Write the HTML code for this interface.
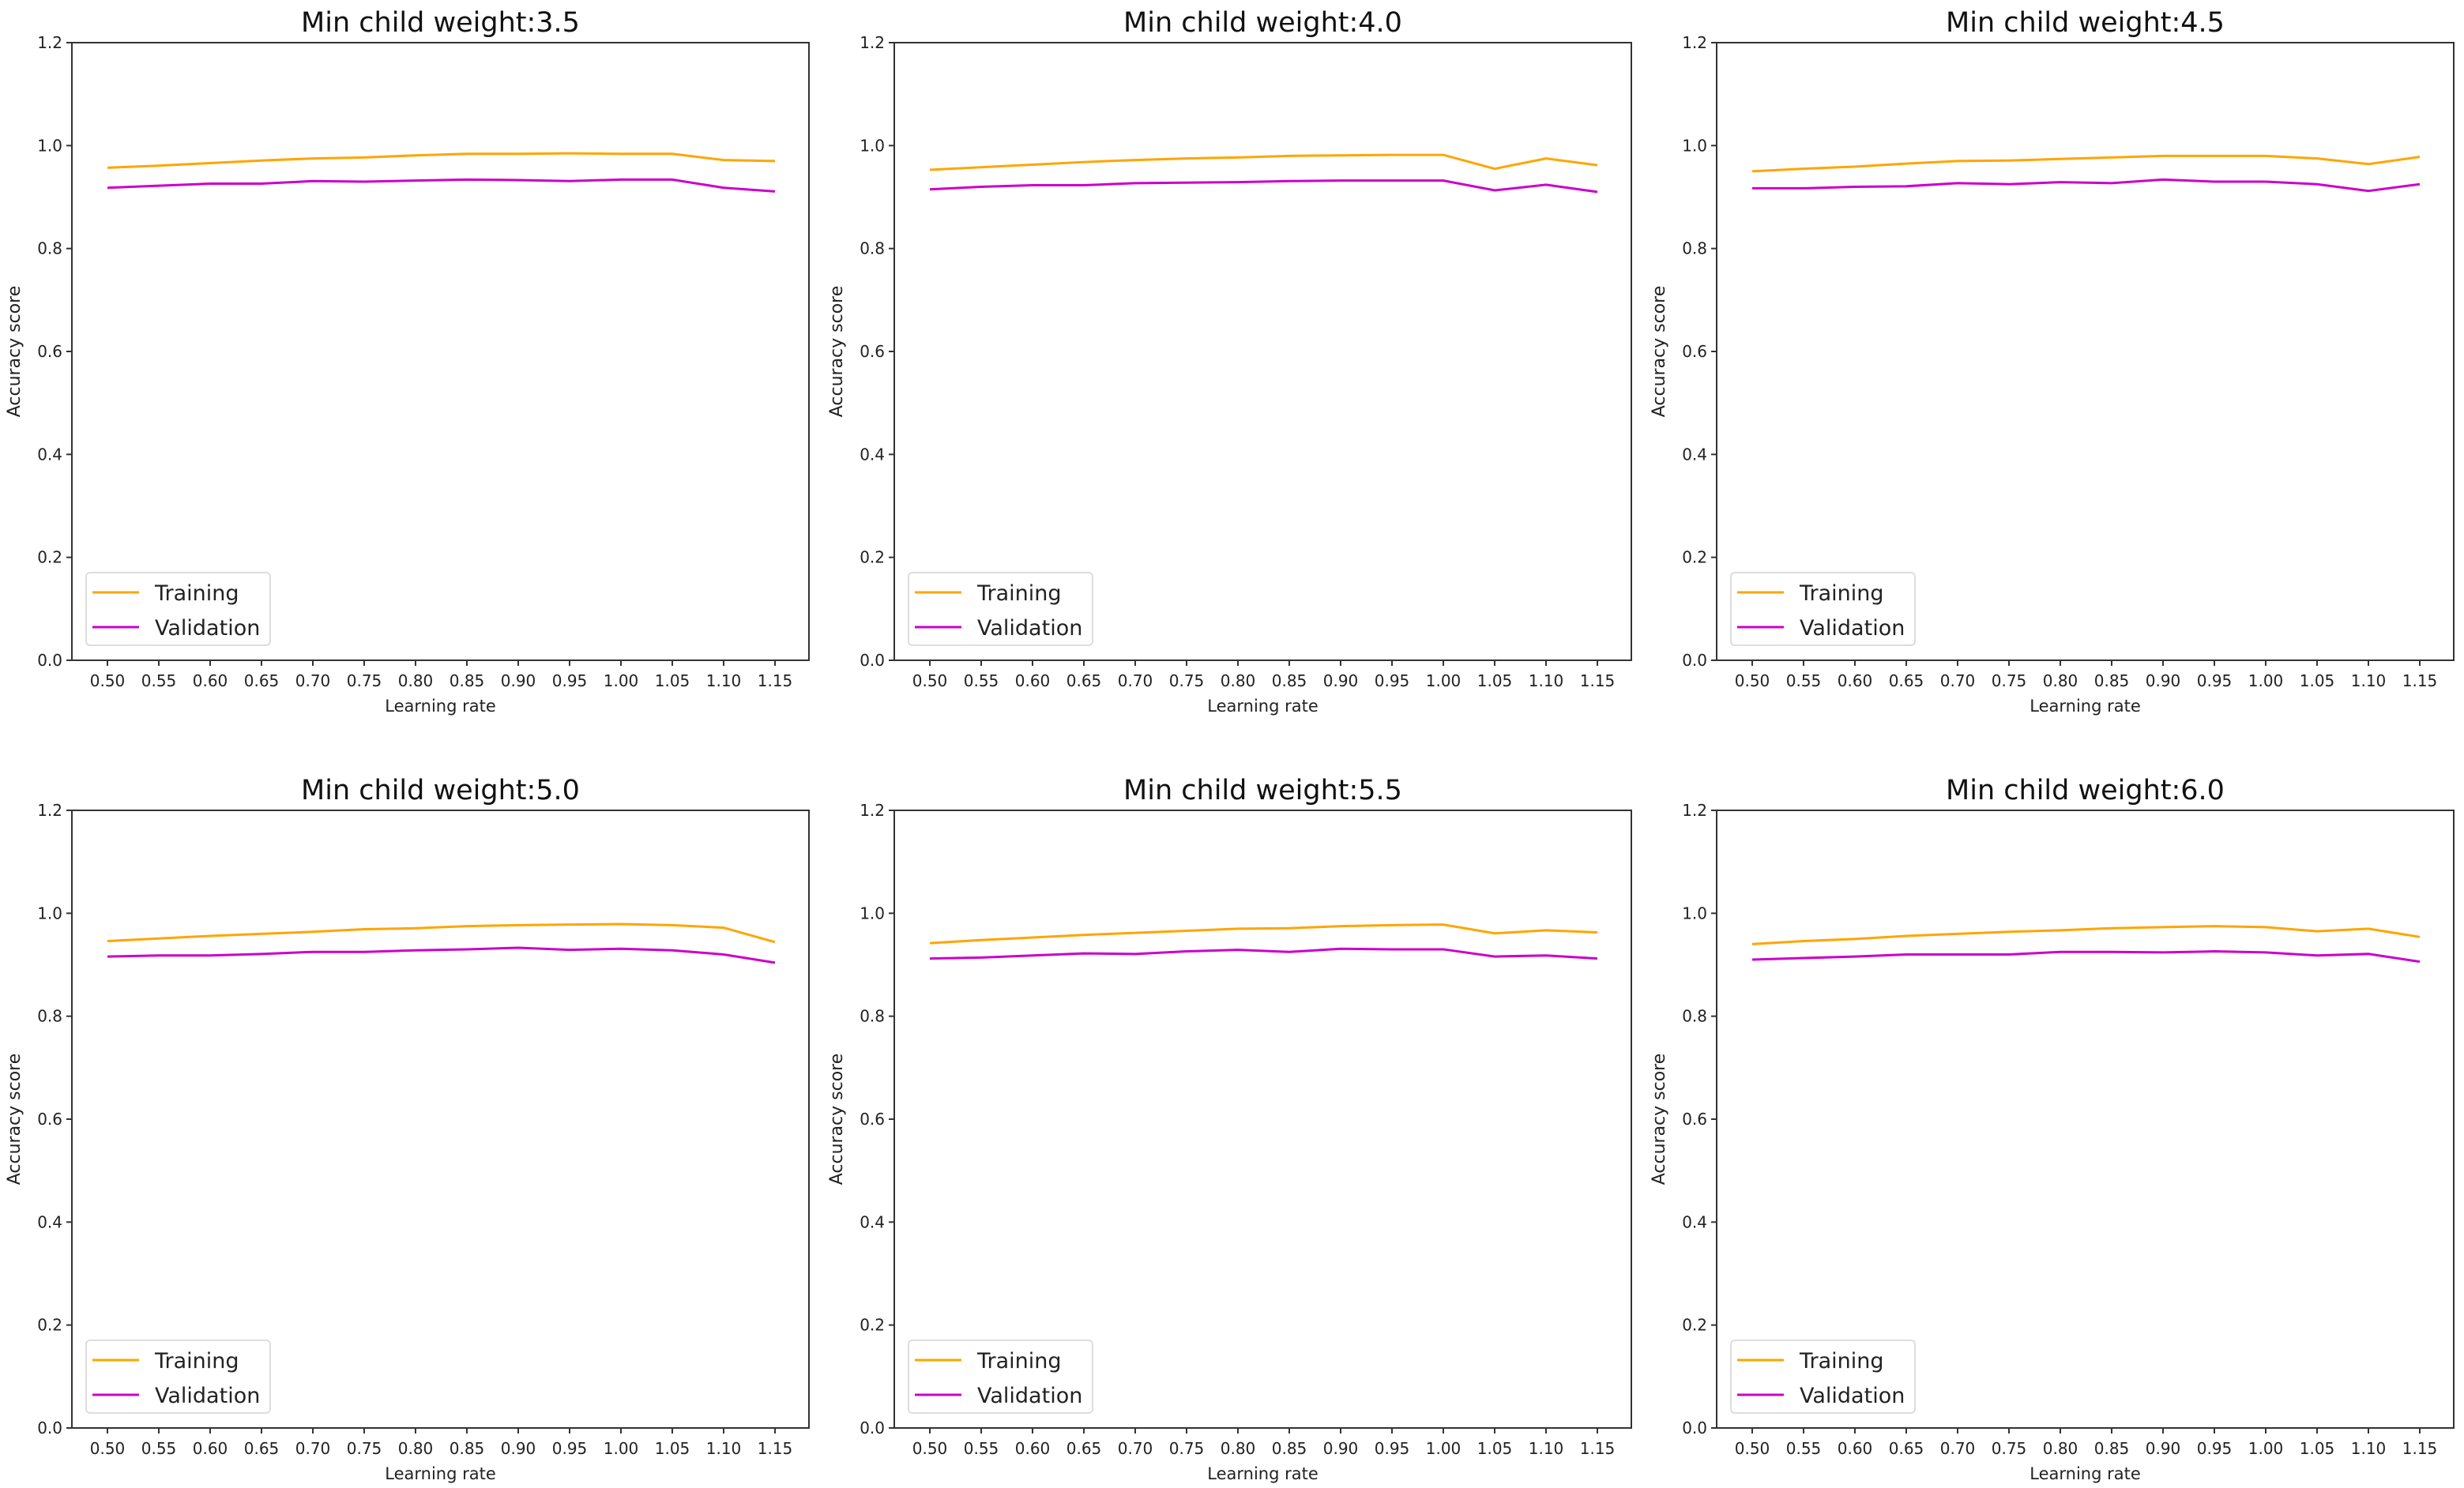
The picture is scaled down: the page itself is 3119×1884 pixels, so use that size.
<!DOCTYPE html>
<html><head><meta charset="utf-8"><style>
html,body{margin:0;padding:0;background:#fff;overflow:hidden;}
svg{display:block;font-family:"DejaVu Sans","Liberation Sans",sans-serif;}
</style></head><body>
<svg id="fig" width="3119" height="1884" viewBox="0 0 3119 1884" xmlns="http://www.w3.org/2000/svg"></svg>
<script>
const xLabels = ["0.50","0.55","0.60","0.65","0.70","0.75","0.80","0.85","0.90","0.95","1.00","1.05","1.10","1.15"];
const yTicks = [0.0,0.2,0.4,0.6,0.8,1.0,1.2];
const titles = ["Min child weight:3.5","Min child weight:4.0","Min child weight:4.5","Min child weight:5.0","Min child weight:5.5","Min child weight:6.0"];
const train35 = [0.957,0.961,0.966,0.971,0.975,0.977,0.981,0.984,0.984,0.985,0.984,0.984,0.972,0.970];
const val35 = [0.918,0.922,0.926,0.926,0.931,0.930,0.932,0.934,0.933,0.931,0.934,0.934,0.918,0.911];
const train40 = [0.953,0.958,0.963,0.968,0.972,0.975,0.977,0.980,0.981,0.982,0.982,0.955,0.975,0.962];
const val40 = [0.915,0.920,0.923,0.923,0.927,0.928,0.929,0.931,0.932,0.932,0.932,0.913,0.924,0.910];
const train45 = [0.950,0.955,0.959,0.965,0.970,0.971,0.974,0.977,0.980,0.980,0.980,0.975,0.964,0.978];
const val45 = [0.917,0.917,0.920,0.921,0.927,0.925,0.929,0.927,0.934,0.930,0.930,0.925,0.912,0.925];
const train50 = [0.946,0.951,0.956,0.960,0.964,0.969,0.971,0.975,0.977,0.978,0.979,0.977,0.972,0.944];
const val50 = [0.916,0.918,0.918,0.921,0.925,0.925,0.928,0.930,0.933,0.929,0.931,0.928,0.920,0.904];
const train55 = [0.942,0.948,0.953,0.958,0.962,0.966,0.970,0.971,0.975,0.977,0.978,0.961,0.967,0.963];
const val55 = [0.912,0.914,0.918,0.922,0.921,0.926,0.929,0.925,0.931,0.930,0.930,0.916,0.918,0.912];
const train60 = [0.940,0.946,0.950,0.956,0.960,0.964,0.967,0.971,0.973,0.975,0.973,0.965,0.970,0.954];
const val60 = [0.910,0.913,0.916,0.920,0.920,0.920,0.925,0.925,0.924,0.926,0.924,0.918,0.921,0.906];
const trainSets = [train35,train40,train45,train50,train55,train60];
const valSets = [val35,val40,val45,val50,val55,val60];

const NS="http://www.w3.org/2000/svg";
const svg=document.getElementById('fig');
function mk(tag,attrs,parent,text){const e=document.createElementNS(NS,tag);for(const k in attrs)e.setAttribute(k,attrs[k]);if(text!==undefined)e.textContent=text;(parent||svg).appendChild(e);return e;}

for(let p=0;p<6;p++){
  const ox=(p%3)*1041, oy=Math.floor(p/3)*972;
  const L=91+ox,R=1024+ox,T=54+oy,B=836+oy;
  const x0=136+ox, dx=65;
  const X=i=>x0+i*dx;
  const Y=v=>B-(v/1.2)*(B-T);
  const g=mk('g',{});
  
  
  const t=mk('text',{x:(L+R)/2,y:T-14,'text-anchor':'middle','font-size':35,fill:'#111'},g,titles[p]);
  
  
  yTicks.forEach(v=>{
    mk('line',{x1:L-7,x2:L,y1:Y(v),y2:Y(v),stroke:'#333','stroke-width':2},g);
    const tl=mk('text',{x:L-12,y:Y(v)+7,'text-anchor':'end','font-size':20,fill:'#222'},g,v.toFixed(1));
    
    
  });
  xLabels.forEach((s,i)=>{
    mk('line',{x1:X(i),x2:X(i),y1:B,y2:B+7,stroke:'#333','stroke-width':2},g);
    const tl=mk('text',{x:X(i),y:B+33,'text-anchor':'middle','font-size':20,fill:'#222'},g,s);
    
    
  });
  const xl=mk('text',{x:(L+R)/2,y:B+65,'text-anchor':'middle','font-size':21,fill:'#222'},g,'Learning rate');
  
  
  const yl=mk('text',{x:0,y:0,'text-anchor':'middle','font-size':22,fill:'#222',transform:`translate(${L-66},${(T+B)/2}) rotate(-90)`},g,'Accuracy score');
  
  
  const tr=mk('polyline',{points:trainSets[p].map((v,i)=>X(i)+','+Y(v)).join(' '),fill:'none',stroke:'#ffa500','stroke-width':3},g);
  
  
  const va=mk('polyline',{points:valSets[p].map((v,i)=>X(i)+','+Y(v)).join(' '),fill:'none',stroke:'#cc00cc','stroke-width':3},g);
  
  
  mk('rect',{x:L,y:T,width:R-L,height:B-T,fill:'none',stroke:'#333','stroke-width':2},g);
  const lg=mk('g',{},g);
  
  
  mk('rect',{x:109+ox,y:725+oy,width:233,height:92,rx:5,fill:'#fff',stroke:'#ddd','stroke-width':2},lg);
  mk('line',{x1:117+ox,x2:176+ox,y1:750+oy,y2:750+oy,stroke:'#ffa500','stroke-width':3},lg);
  mk('line',{x1:117+ox,x2:176+ox,y1:794+oy,y2:794+oy,stroke:'#cc00cc','stroke-width':3},lg);
  const e1=mk('text',{x:196+ox,y:760+oy,'font-size':27,fill:'#222'},lg,'Training');
  
  
  const e2=mk('text',{x:196+ox,y:804+oy,'font-size':27,fill:'#222'},lg,'Validation');
  
  
}
</script>
</body></html>
